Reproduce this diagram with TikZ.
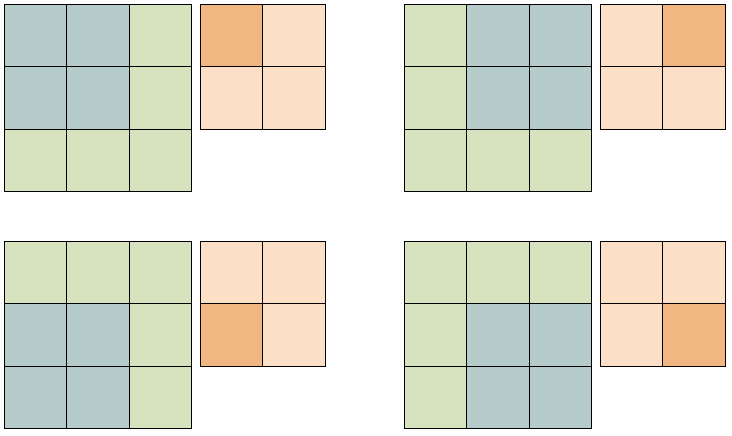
\documentclass[tikz,border=0pt]{standalone}
\usetikzlibrary{positioning}
\definecolor{winblue}{HTML}{B5CCCA}
\definecolor{gridgreen}{HTML}{D7E3BF}
\definecolor{outlight}{HTML}{FBDFC7}
\definecolor{outdark}{HTML}{F2B683}
\tikzset{cell/.style={minimum size=1cm},
         cellline/.style={line width=0.45pt}}

\begin{document}
\begin{tikzpicture}[every node/.style={inner sep=0pt,outer sep=0pt}]
        \useasboundingbox (0,0) rectangle (11.744,-6.979);
        % 四个窗口位置:\i 列偏移, \j 行偏移
        \foreach \i/\j in {0/0,1/0,0/1,1/1} {
            % 输入层:3x3矩阵
            \foreach \x in {1,2,3} {
                \foreach \y in {1,2,3} {
                    \pgfmathtruncatemacro\inwin{and(and(\x>\i,\x<\i+3),and(\y>\j,\y<\j+3))}
                    \ifnum\inwin=1
                        \node[cell,fill=winblue] (in-\i\j-\x-\y) at (0.072+6.418*\i+\x-0.5,-0.072-3.802*\j-\y+0.5) {};
                    \else
                        \node[cell,fill=gridgreen] (in-\i\j-\x-\y) at (0.072+6.418*\i+\x-0.5,-0.072-3.802*\j-\y+0.5) {};
                    \fi
                }
            }
            % 输出层:2x2矩阵
            \foreach \x in {1,2} {
                \foreach \y in {1,2} {
                    \pgfmathtruncatemacro\hit{and(\x==\i+1,\y==\j+1)}
                    \ifnum\hit=1
                        \node[cell,fill=outdark] (out-\i\j-\x-\y) at (3.217+6.418*\i+\x-0.5,-0.072-3.802*\j-\y+0.5) {};
                    \else
                        \node[cell,fill=outlight] (out-\i\j-\x-\y) at (3.217+6.418*\i+\x-0.5,-0.072-3.802*\j-\y+0.5) {};
                    \fi
                }
            }
            % 边框
            \foreach \x in {1,2,3} {
                \foreach \y in {1,2,3} {
                    \draw[cellline] (in-\i\j-\x-\y.south west) rectangle (in-\i\j-\x-\y.north east);
                }
            }
            \foreach \x in {1,2} {
                \foreach \y in {1,2} {
                    \draw[cellline] (out-\i\j-\x-\y.south west) rectangle (out-\i\j-\x-\y.north east);
                }
            }
        }
    \end{tikzpicture}
\end{document}
